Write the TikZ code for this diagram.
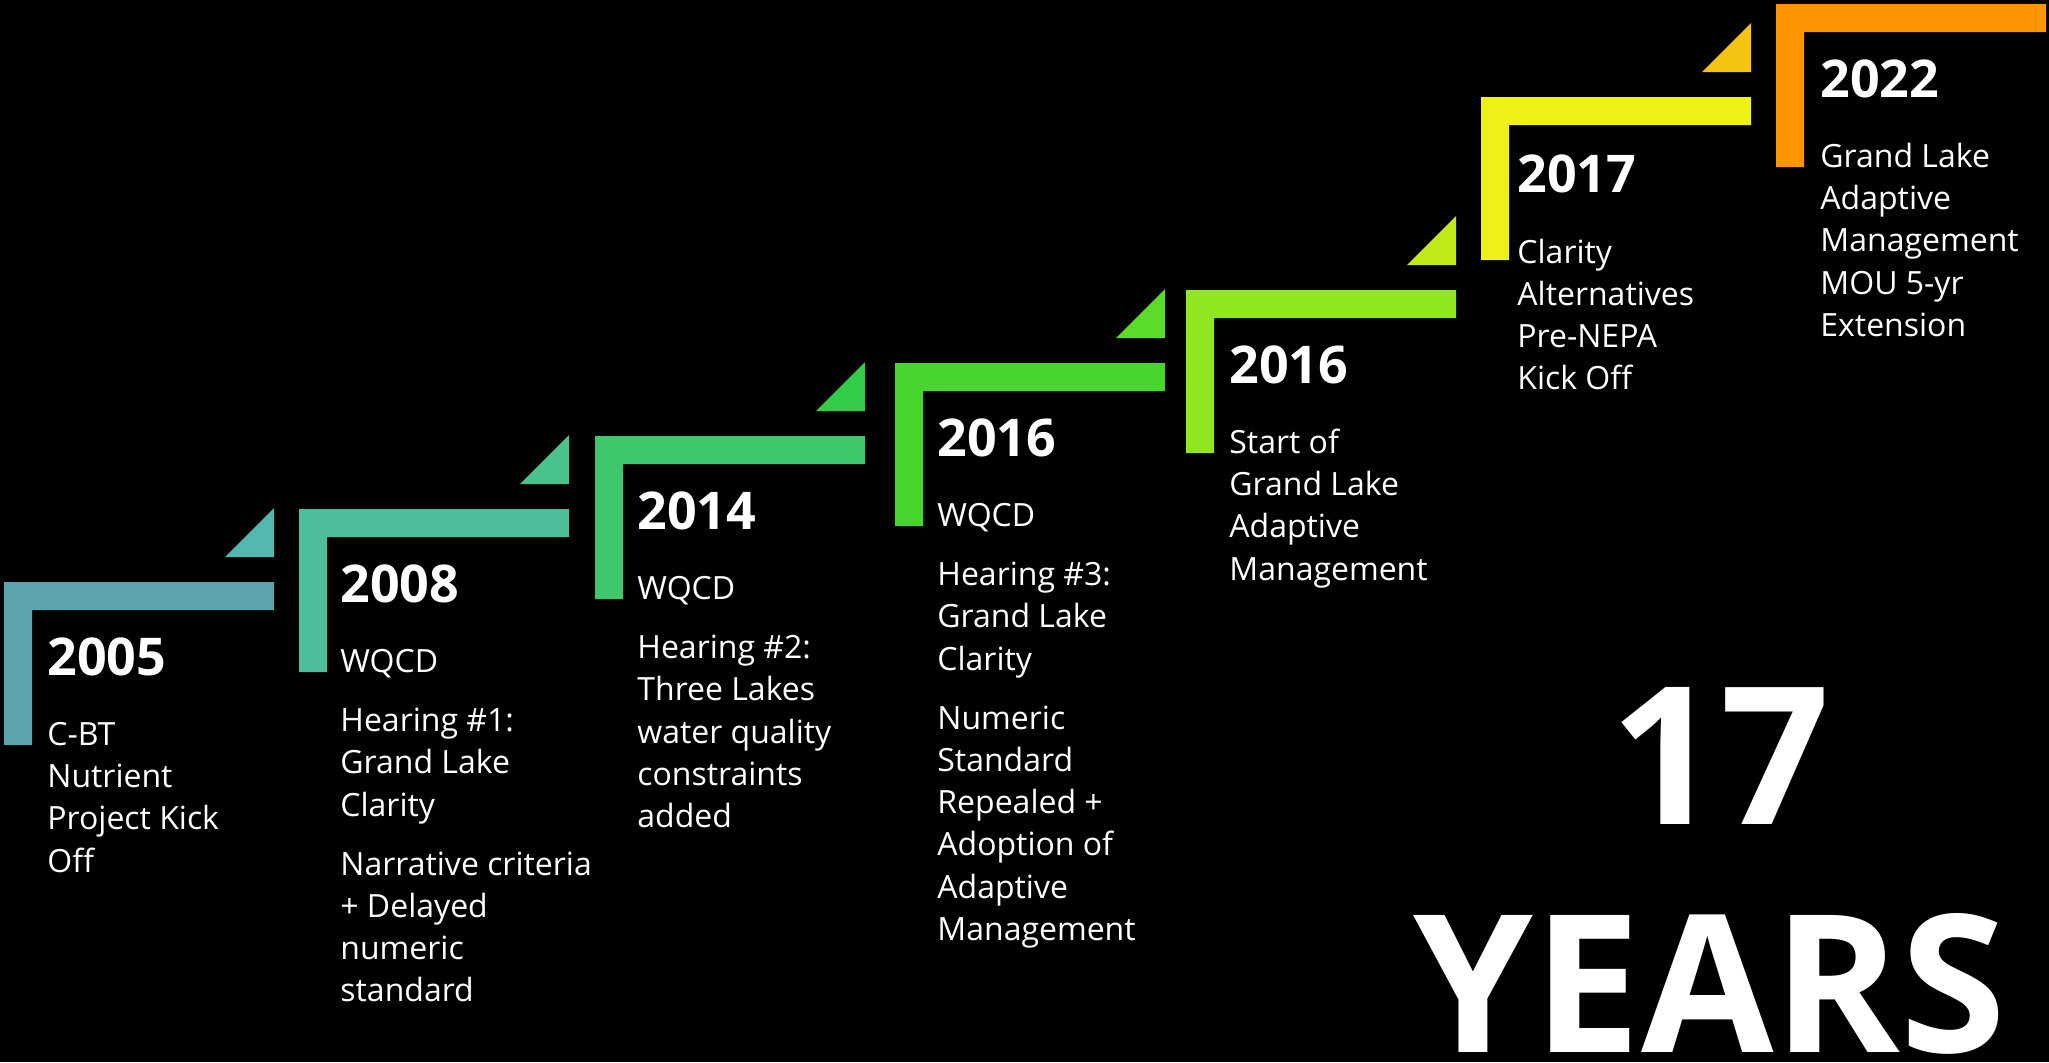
\documentclass[tikz,border=0pt]{standalone}
\usepackage{fontspec}
\setmainfont{Open Sans}
\usepackage{tikz}

\definecolor{barA}{HTML}{5BA3AE}
\definecolor{barB}{HTML}{4DBE9B}
\definecolor{barC}{HTML}{3EC86B}
\definecolor{barD}{HTML}{47D62E}
\definecolor{barE}{HTML}{8FE621}
\definecolor{barF}{HTML}{EEF117}
\definecolor{barG}{HTML}{FF9500}
\definecolor{tipA}{HTML}{55B8B0}
\definecolor{tipB}{HTML}{47C38B}
\definecolor{tipC}{HTML}{34CB48}
\definecolor{tipD}{HTML}{5CDC2A}
\definecolor{tipE}{HTML}{C1EA1B}
\definecolor{tipF}{HTML}{F4C410}

\newcommand{\notelines}[1]{\begin{tabular}[t]{@{}l@{}}#1\end{tabular}}

\begin{document}
\begin{tikzpicture}[
    x=0.5pt, y=-0.5pt, % one unit per pixel, y running down
    every node/.style={inner sep=0pt, text=white, anchor=base west},
    yearlabel/.style={font=\fontsize{26}{30}\selectfont\bfseries},
    stepnote/.style={font=\fontsize{16}{21.1}\selectfont},
    bigtext/.style={font=\fontsize{96}{110}\selectfont\bfseries, anchor=base}
]
    % 0. Background
    \fill[black] (0,0) rectangle (2049,1062);

    % 1. The stair bars (one L per milestone)
    \fill[barA] (4,582)    -- ++(270,0) -- ++(0,28) -- ++(-242,0) -- ++(0,135) -- ++(-28,0) -- cycle;
    \fill[barB] (299,509)  -- ++(270,0) -- ++(0,28) -- ++(-242,0) -- ++(0,135) -- ++(-28,0) -- cycle;
    \fill[barC] (595,436)  -- ++(270,0) -- ++(0,28) -- ++(-242,0) -- ++(0,135) -- ++(-28,0) -- cycle;
    \fill[barD] (895,363)  -- ++(270,0) -- ++(0,28) -- ++(-242,0) -- ++(0,135) -- ++(-28,0) -- cycle;
    \fill[barE] (1186,290) -- ++(270,0) -- ++(0,28) -- ++(-242,0) -- ++(0,135) -- ++(-28,0) -- cycle;
    \fill[barF] (1481,97)  -- ++(270,0) -- ++(0,28) -- ++(-242,0) -- ++(0,135) -- ++(-28,0) -- cycle;
    \fill[barG] (1776,4)   -- ++(270,0) -- ++(0,28) -- ++(-242,0) -- ++(0,135) -- ++(-28,0) -- cycle;

    % 2. The small corner triangles between the steps
    \fill[tipA] (274,557)  -- ++(0,-49) -- ++(-49,49) -- cycle;
    \fill[tipB] (569,484)  -- ++(0,-49) -- ++(-49,49) -- cycle;
    \fill[tipC] (865,411)  -- ++(0,-49) -- ++(-49,49) -- cycle;
    \fill[tipD] (1165,338) -- ++(0,-49) -- ++(-49,49) -- cycle;
    \fill[tipE] (1456,265) -- ++(0,-49) -- ++(-49,49) -- cycle;
    \fill[tipF] (1751,72)  -- ++(0,-49) -- ++(-49,49) -- cycle;

    % 3. Years
    \node[yearlabel] (Y05) at (47,675)   {2005};
    \node[yearlabel] (Y08) at (340,602)  {2008};
    \node[yearlabel] (Y14) at (637,529)  {2014};
    \node[yearlabel] (Y16) at (937,456)  {2016};
    \node[yearlabel] (Y16b) at (1229,383) {2016};
    \node[yearlabel] (Y17) at (1517,192) {2017};
    \node[yearlabel] (Y22) at (1820,97)  {2022};

    % 4. What happened
    \node[stepnote] (N05) at (47,745.5) {\notelines{C-BT\\Nutrient\\Project Kick\\Off}};
    \node[stepnote] (N08) at (340,672.5) {\notelines{WQCD\\[8.5pt]
        Hearing \#1:\\Grand Lake\\Clarity\\[8.5pt]
        Narrative criteria\\+ Delayed\\numeric\\standard}};
    \node[stepnote] (N14) at (637,599.5) {\notelines{WQCD\\[8.5pt]
        Hearing \#2:\\Three Lakes\\water quality\\constraints\\added}};
    \node[stepnote] (N16) at (937,526.5) {\notelines{WQCD\\[8.5pt]
        Hearing \#3:\\Grand Lake\\Clarity\\[8.5pt]
        Numeric\\Standard\\Repealed +\\Adoption of\\Adaptive\\Management}};
    \node[stepnote] (N16b) at (1229,453.5) {\notelines{Start of\\Grand Lake\\Adaptive\\Management}};
    \node[stepnote] (N17) at (1517,263) {\notelines{Clarity\\Alternatives\\Pre-NEPA\\Kick Off}};
    \node[stepnote] (N22) at (1820,167.5) {\notelines{Grand Lake\\Adaptive\\Management\\MOU 5-yr\\Extension}};

    % 5. Span
    \node[bigtext] (span) at (1720,824) {17};
    \node[bigtext] (unit) at (1710,1052) {YEARS};
\end{tikzpicture}
\end{document}
